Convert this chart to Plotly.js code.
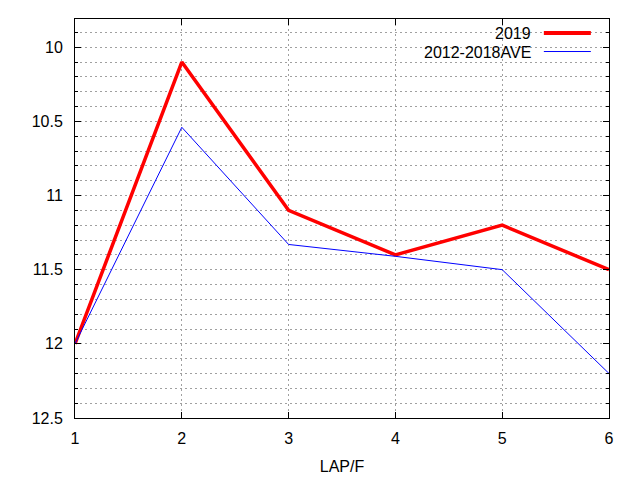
<!DOCTYPE html>
<html><head><meta charset="utf-8">
<script src="https://cdn.plot.ly/plotly-3.0.1.min.js"></script>
<style>html,body{margin:0;padding:0;background:#fff}</style>
</head><body>
<div id="chart" style="width:640px;height:480px"></div>
<script>
const laps = [1, 2, 3, 4, 5, 6];
const y2019 = [12.0, 10.1, 11.1, 11.4, 11.2, 11.5];
const yAve = [12.0, 10.54, 11.33, 11.41, 11.5, 12.2];
const seriesNames = ['2019', '2012-2018AVE'];
const seriesColors = ['#ff0000', '#0000ff'];
const seriesWidths = [3.5, 1];

const font = {family: 'Liberation Sans, Arial, sans-serif', size: 16, color: '#000'};
const traces = [
  {x: laps, y: y2019, mode: 'lines', line: {color: seriesColors[0], width: seriesWidths[0]}, showlegend: false},
  {x: laps, y: yAve, mode: 'lines', line: {color: seriesColors[1], width: seriesWidths[1]}, showlegend: false}
];
const gridStyle = {showgrid: true, gridcolor: '#a0a0a0', gridwidth: 1, griddash: '2px,3px'};
const layout = {
  width: 640, height: 480,
  margin: {l: 75, r: 31, t: 19, b: 62},
  paper_bgcolor: '#fff', plot_bgcolor: '#fff',
  font: font,
  xaxis: Object.assign({
    range: [1, 6], tickvals: laps, ticktext: laps.map(String),
    ticks: 'inside', ticklen: 6, tickcolor: '#000', showline: true, linecolor: '#000', linewidth: 1,
    mirror: 'allticks', zeroline: false, title: {text: 'LAP/F', font: font, standoff: 14},
    ticklabelstandoff: 6
  }, gridStyle),
  yaxis: Object.assign({
    range: [12.5, 9.81], tickvals: [10, 10.5, 11, 11.5, 12, 12.5], ticktext: ['10', '10.5', '11', '11.5', '12', '12.5'],
    ticks: 'inside', ticklen: 6, tickcolor: '#000', showline: true, linecolor: '#000', linewidth: 1,
    mirror: 'allticks', zeroline: false, ticklabelstandoff: 8,
    minor: {dtick: 0.1, tick0: 10, ticks: 'inside', ticklen: 3, tickcolor: '#000', showgrid: true, gridcolor: '#a0a0a0', griddash: '2px,3px', gridwidth: 1}
  }, gridStyle),
  shapes: [
    {type: 'rect', xref: 'paper', yref: 'paper', x0: 0.633, x1: 0.993, y0: 0.9, y1: 0.987, fillcolor: '#fff', line: {width: 0}, layer: 'between'},
    {type: 'line', xref: 'paper', yref: 'paper', x0: 0.878, x1: 0.966, y0: 0.965, y1: 0.965, line: {color: seriesColors[0], width: 4}},
    {type: 'line', xref: 'paper', yref: 'paper', x0: 0.878, x1: 0.966, y0: 0.9185, y1: 0.9185, line: {color: seriesColors[1], width: seriesWidths[1]}}
  ],
  annotations: [
    {xref: 'paper', yref: 'paper', x: 0.857, y: 0.963, xanchor: 'right', yanchor: 'middle', text: seriesNames[0], showarrow: false, font: font},
    {xref: 'paper', yref: 'paper', x: 0.857, y: 0.9165, xanchor: 'right', yanchor: 'middle', text: seriesNames[1], showarrow: false, font: font}
  ]
};
Plotly.newPlot('chart', traces, layout, {displayModeBar: false, staticPlot: true});
</script>
</body></html>
